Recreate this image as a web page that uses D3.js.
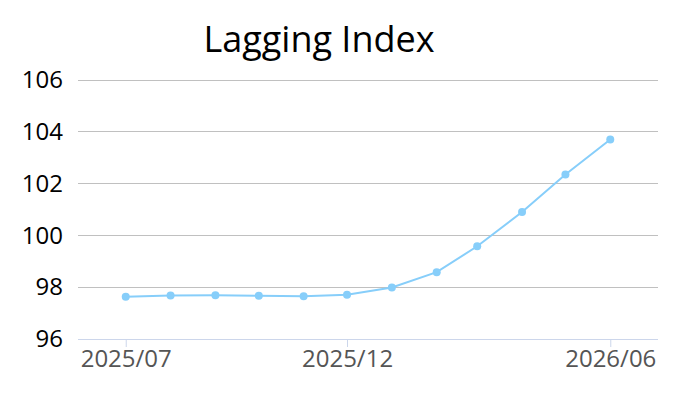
<!DOCTYPE html>
<html><head><meta charset="utf-8">
<script src="https://cdn.jsdelivr.net/npm/d3@7"></script>
<style>body{margin:0;background:#fff}svg{display:block}</style>
</head><body>
<svg id="c" width="700" height="400"></svg>
<script>
const title = "Lagging Index";
const months = ["2025-07","2025-08","2025-09","2025-10","2025-11","2025-12","2026-01","2026-02","2026-03","2026-04","2026-05","2026-06"];
const values = [97.63,97.68,97.69,97.67,97.65,97.71,97.99,98.58,99.58,100.90,102.35,103.70];
const xTickLabels = ["2025/07","2025/12","2026/06"];
const yTicks = [96,98,100,102,104,106];

const parse = d3.timeParse("%Y-%m");
const fmt = d3.timeFormat("%Y/%m");
const dates = months.map(parse);
const svg = d3.select("#c");
const L = 78, R = 658, T = 80, B = 339;

const x = d3.scaleTime()
  .domain([d3.timeDay.offset(dates[0], -33), d3.timeDay.offset(dates[dates.length-1], 33)])
  .range([L, R]);
const y = d3.scaleLinear().domain([96,106]).range([B, T]);

// gridlines
svg.append("g").selectAll("line").data(yTicks.slice(1)).join("line")
  .attr("x1", L).attr("x2", R).attr("y1", d=>y(d)).attr("y2", d=>y(d))
  .attr("stroke", "#c0c0c0").attr("stroke-width", 1).attr("shape-rendering","crispEdges");

// y axis labels
const yAxis = svg.append("g").attr("transform", `translate(${L},0)`)
  .call(d3.axisLeft(y).tickValues(yTicks).tickSize(0).tickPadding(15));
yAxis.select(".domain").remove();
yAxis.selectAll("text").attr("font-family","'Open Sans', sans-serif").attr("font-size",24).attr("fill","#000");

// x axis
const xTickDates = xTickLabels.map(s => d3.timeParse("%Y/%m")(s));
const xAxis = svg.append("g").attr("transform", `translate(0,${B})`)
  .call(d3.axisBottom(x).tickValues(xTickDates).tickFormat(fmt).tickSize(8).tickPadding(3));
xAxis.select(".domain").attr("stroke","#ccd6eb").attr("d", `M${L},0.5H${R}`);
xAxis.selectAll(".tick line").attr("stroke","#ccd6eb");
xAxis.selectAll("text").attr("font-family","'Open Sans', sans-serif").attr("font-size",24).attr("fill","#555");

// line
const line = d3.line().x((d,i)=>x(dates[i])).y(d=>y(d));
svg.append("path").datum(values).attr("d", line)
  .attr("fill","none").attr("stroke","#87cefa").attr("stroke-width",2);
svg.append("g").selectAll("circle").data(values).join("circle")
  .attr("cx",(d,i)=>x(dates[i])).attr("cy",d=>y(d)).attr("r",4).attr("fill","#87cefa");

// title
svg.append("text").attr("x",319).attr("y",52).attr("text-anchor","middle")
  .attr("font-family","'Open Sans', sans-serif").attr("font-size",36).attr("fill","#000").text(title);
</script>
</body></html>
